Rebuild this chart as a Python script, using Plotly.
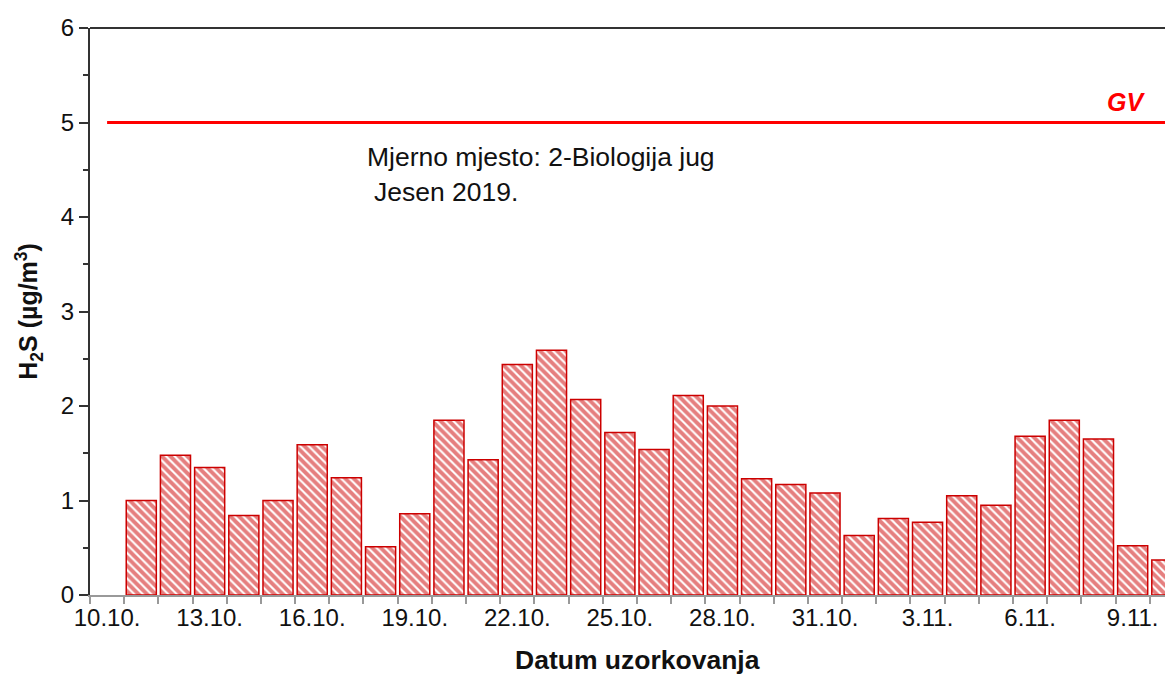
import plotly.graph_objects as go

# datumi uzorkovanja (jesen 2019.)
dates = ["10.10.", "11.10.", "12.10.", "13.10.", "14.10.", "15.10.", "16.10.", "17.10.",
         "18.10.", "19.10.", "20.10.", "21.10.", "22.10.", "23.10.", "24.10.", "25.10.",
         "26.10.", "27.10.", "28.10.", "29.10.", "30.10.", "31.10.", "1.11.", "2.11.",
         "3.11.", "4.11.", "5.11.", "6.11.", "7.11.", "8.11.", "9.11.", "10.11."]

# H2S (ug/m3), 10.10. nema mjerenja
h2s = [None, 1.00, 1.48, 1.35, 0.84, 1.00, 1.59, 1.24,
       0.51, 0.86, 1.85, 1.43, 2.44, 2.59, 2.07, 1.72,
       1.54, 2.11, 2.00, 1.23, 1.17, 1.08, 0.63, 0.81,
       0.77, 1.05, 0.95, 1.68, 1.85, 1.65, 0.52, 0.37]

tick_text = ["10.10.", "", "", "13.10.", "", "", "16.10.", "",
             "", "19.10.", "", "", "22.10.", "", "", "25.10.",
             "", "", "28.10.", "", "", "31.10.", "", "",
             "3.11.", "", "", "6.11.", "", "", "9.11.", ""]

GV = 5  # granicna vrijednost

FONT = "Liberation Sans, Arial, sans-serif"
RED = "#FF0000"
DARKRED = "#CC0000"

fig = go.Figure()

fig.add_trace(go.Bar(
    x=dates, y=h2s,
    marker=dict(
        color="white",
        line=dict(color=DARKRED, width=1.5),
        pattern=dict(shape="\\", fgcolor=DARKRED, bgcolor="white", size=6, solidity=0.65),
    ),
    showlegend=False,
))

fig.add_trace(go.Scatter(
    x=[dates[0], dates[-1]], y=[GV, GV],
    mode="lines", line=dict(color=RED, width=3),
    showlegend=False,
))

# stranica ima 8px margine tijela -> figura 8px manja
fig.update_layout(
    width=1165, height=667,
    paper_bgcolor="white", plot_bgcolor="white",
    font=dict(family=FONT, size=24, color="#111111"),
    margin=dict(l=82, r=0, t=20, b=80, autoexpand=False),
    bargap=0.12,
    xaxis=dict(
        type="category",
        range=[-0.5, 31.18],
        tickmode="array", tickvals=dates, ticktext=tick_text,
        tickson="boundaries", tickangle=0,
        ticks="outside", ticklen=7, tickwidth=2, tickcolor="#999999",
        showline=True, linecolor="#999999", linewidth=2,
        showgrid=False, zeroline=False,
        tickfont=dict(size=24),
    ),
    yaxis=dict(
        range=[0, 6], dtick=1,
        ticks="outside", ticklen=9, tickwidth=2, tickcolor="#333333",
        minor=dict(dtick=0.5, ticks="outside", ticklen=5, tickwidth=2, tickcolor="#333333", showgrid=False),
        showline=True, linecolor="#333333", linewidth=2,
        showgrid=False, zeroline=False,
        tickfont=dict(size=24),
    ),
    shapes=[dict(type="line", xref="paper", yref="paper", x0=0, x1=1, y0=1, y1=1,
                 line=dict(color="#333333", width=2))],
    annotations=[
        dict(text="Mjerno mjesto: 2-Biologija jug", xref="paper", yref="y",
             x=0.254, y=4.64, xanchor="left", yanchor="middle", showarrow=False,
             font=dict(size=26.5)),
        dict(text="Jesen 2019.", xref="paper", yref="y",
             x=0.260, y=4.26, xanchor="left", yanchor="middle", showarrow=False,
             font=dict(size=26.5)),
        dict(text="<b><i>GV</i></b>", xref="paper", yref="y",
             x=0.957, y=5.22, xanchor="center", yanchor="middle", showarrow=False,
             font=dict(size=25, color=RED)),
        dict(text="<b>Datum uzorkovanja</b>", xref="paper", yref="paper",
             x=0.506, y=-0.115, xanchor="center", yanchor="middle", showarrow=False,
             font=dict(size=26.5)),
        dict(text="<b>H<sub>2</sub>S (µg/m<sup>3</sup>)</b>", xref="paper", yref="paper",
             x=-0.057, y=0.5, xanchor="center", yanchor="middle", showarrow=False,
             textangle=-90, font=dict(size=25)),
    ],
)

fig.write_html("out.html")
